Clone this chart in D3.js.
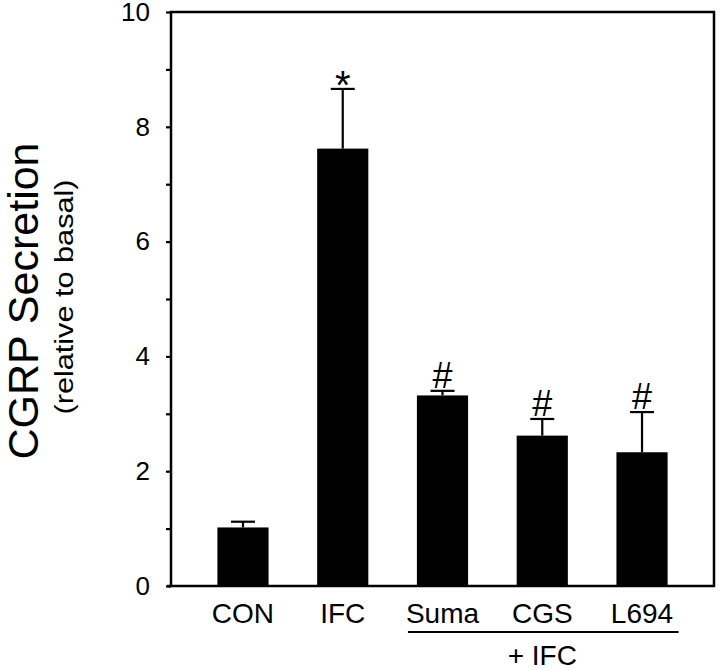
<!DOCTYPE html>
<html>
<head>
<meta charset="utf-8">
<script src="https://cdn.jsdelivr.net/npm/d3@7"></script>
<style>
  html, body { margin: 0; padding: 0; background: #fff; }
  svg { display: block; font-family: "Liberation Sans", Arial, Helvetica, sans-serif; }
</style>
</head>
<body>
<svg id="chart" width="720" height="670"></svg>
<script>
const categories = ["CON", "IFC", "Suma", "CGS", "L694"];
const means      = [1.02, 7.62, 3.32, 2.62, 2.33];
const errors     = [0.10, 1.04, 0.08, 0.29, 0.70];
const markers    = ["", "*", "#", "#", "#"];
const yTicks     = [0, 1, 2, 3, 4, 5, 6, 7, 8, 9, 10];
const yTickLabels = ["0", "", "2", "", "4", "", "6", "", "8", "", "10"];
const groupLabel = "+ IFC";
const yTitle = "CGRP Secretion";
const ySubtitle = "(relative to basal)";

(function () {
const svg = d3.select("#chart");
const pL = 171, pR = 714, pT = 12, pB = 586;

const x = d3.scaleBand().domain(categories).range([pL, pR])
  .paddingInner(0.487).paddingOuter(0.465);
const y = d3.scaleLinear().domain([0, 10]).range([pB, pT]);

const data = categories.map((c, i) => ({ c, m: means[i], e: errors[i], mk: markers[i] }));

// bars
svg.append("g").selectAll("rect").data(data).join("rect")
  .attr("x", d => x(d.c)).attr("width", x.bandwidth())
  .attr("y", d => y(d.m)).attr("height", d => y(0) - y(d.m))
  .attr("fill", "#000");

// error bars (upper only)
const eg = svg.append("g").attr("stroke", "#000").attr("stroke-width", 2.2);
eg.selectAll("line.v").data(data).join("line").attr("class", "v")
  .attr("x1", d => x(d.c) + x.bandwidth() / 2).attr("x2", d => x(d.c) + x.bandwidth() / 2)
  .attr("y1", d => y(d.m)).attr("y2", d => y(d.m + d.e));
eg.selectAll("line.h").data(data).join("line").attr("class", "h")
  .attr("x1", d => x(d.c) + x.bandwidth() / 2 - 12).attr("x2", d => x(d.c) + x.bandwidth() / 2 + 12)
  .attr("y1", d => y(d.m + d.e)).attr("y2", d => y(d.m + d.e));

// significance markers
svg.append("g").selectAll("text").data(data.filter(d => d.mk)).join("text")
  .attr("x", d => x(d.c) + x.bandwidth() / 2)
  .attr("y", d => d.mk === "*" ? y(d.m + d.e) + 10 : y(d.m + d.e) - 3)
  .attr("text-anchor", "middle")
  .attr("font-size", d => d.mk === "*" ? 40 : 36)
  .text(d => d.mk);

// frame
svg.append("rect").attr("x", pL).attr("y", pT)
  .attr("width", pR - pL).attr("height", pB - pT)
  .attr("fill", "none").attr("stroke", "#000").attr("stroke-width", 2.5);

// y axis
const yAxis = d3.axisLeft(y).tickValues(yTicks)
  .tickFormat((d, i) => yTickLabels[i]).tickSize(5).tickPadding(16);
const ga = svg.append("g").attr("transform", `translate(${pL},0)`).call(yAxis);
ga.select(".domain").remove();
ga.selectAll(".tick line").attr("stroke", "#000").attr("stroke-width", 2.2);
ga.selectAll(".tick text").attr("font-size", 26).attr("fill", "#000")
  .attr("font-family", "Liberation Sans, Arial, sans-serif");

// extend bottom axis slightly left
svg.append("line").attr("x1", pL - 4).attr("x2", pL).attr("y1", pB).attr("y2", pB)
  .attr("stroke", "#000").attr("stroke-width", 2.5);

// x category labels
svg.append("g").selectAll("text").data(categories).join("text")
  .attr("x", d => x(d) + x.bandwidth() / 2).attr("y", 623)
  .attr("text-anchor", "middle").attr("font-size", 28).text(d => d);

// group underline and label
const g0 = x("Suma"), g1 = x("L694") + x.bandwidth();
svg.append("line").attr("x1", g0 - 9).attr("x2", g1 + 11).attr("y1", 632).attr("y2", 632)
  .attr("stroke", "#000").attr("stroke-width", 2);
svg.append("text").attr("x", x("CGS") + x.bandwidth() / 2).attr("y", 665)
  .attr("text-anchor", "middle").attr("font-size", 28).text(groupLabel);

// y titles
svg.append("text").attr("transform", "translate(38,301) rotate(-90)")
  .attr("text-anchor", "middle").attr("font-size", 43).text(yTitle);
svg.append("text").attr("transform", "translate(73,297) rotate(-90)")
  .attr("text-anchor", "middle").attr("font-size", 25)
  .attr("textLength", 235).attr("lengthAdjust", "spacingAndGlyphs").text(ySubtitle);
})();
</script>
</body>
</html>
